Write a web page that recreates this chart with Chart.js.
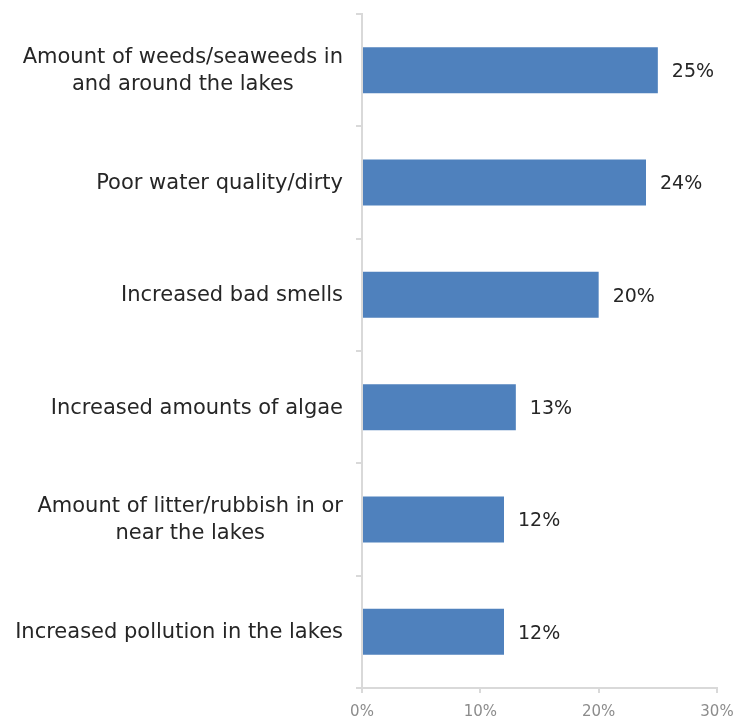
<!doctype html>
<html lang="en">
<head>
<meta charset="utf-8">
<title>Lake issues</title>
<script src="https://cdn.jsdelivr.net/npm/chart.js"></script>
<style>
  * { margin: 0; padding: 0; }
  body { background: #fff; }
  .chartBox { width: 746px; height: 721px; }
</style>
</head>
<body>
<div class="chartBox"><canvas id="myChart"></canvas></div>
<script>
const categories = [
  ['Amount of weeds/seaweeds in', 'and around the lakes'],
  'Poor water quality/dirty',
  'Increased bad smells',
  'Increased amounts of algae',
  ['Amount of litter/rubbish in or', 'near the lakes'],
  'Increased pollution in the lakes'
];
const values = [25, 24, 20, 13, 12, 12];
const xTicks = [0, 10, 20, 30];

const FONT = '"DejaVu Sans", sans-serif';
const axisColor = '#d9d9d9';
const textColor = '#262626';

// value labels to the right of each bar
const barLabels = {
  id: 'barLabels',
  afterDatasetsDraw(chart) {
    const ctx = chart.ctx;
    const meta = chart.getDatasetMeta(0);
    ctx.save();
    ctx.font = '19px ' + FONT;
    ctx.fillStyle = textColor;
    ctx.textAlign = 'left';
    ctx.textBaseline = 'middle';
    meta.data.forEach(function (bar, i) {
      ctx.fillText(values[i] + '%', bar.x + 14, bar.y + 2);
    });
    ctx.restore();
  }
};

// category labels: block right-aligned to the axis, lines centred within the block
const catLabels = {
  id: 'catLabels',
  afterDraw(chart) {
    const ctx = chart.ctx;
    const y = chart.scales.y;
    const right = y.right - 19;
    const lh = 27;
    ctx.save();
    ctx.font = '21px ' + FONT;
    ctx.fillStyle = textColor;
    ctx.textAlign = 'center';
    ctx.textBaseline = 'middle';
    categories.forEach(function (lab, i) {
      const lines = Array.isArray(lab) ? lab : [lab];
      const w = Math.max.apply(null, lines.map(l => ctx.measureText(l).width));
      const cx = right - w / 2;
      const cy = y.getPixelForTick(i);
      lines.forEach(function (l, j) {
        ctx.fillText(l, cx, cy + (j - (lines.length - 1) / 2) * lh + 1);
      });
    });
    ctx.restore();
  }
};

new Chart(document.getElementById('myChart'), {
  type: 'bar',
  data: {
    labels: categories,
    datasets: [{
      data: values,
      backgroundColor: '#4f81bd',
      categoryPercentage: 1,
      barPercentage: 0.41
    }]
  },
  options: {
    indexAxis: 'y',
    responsive: true,
    maintainAspectRatio: false,
    animation: false,
    layout: { padding: { top: 14, right: 29, bottom: 0, left: 0 } },
    plugins: { legend: { display: false }, tooltip: { enabled: false } },
    scales: {
      x: {
        min: 0,
        max: 30,
        afterBuildTicks(axis) { axis.ticks = xTicks.map(v => ({ value: v })); },
        afterFit(axis) { axis.height = 33; },
        border: { color: axisColor, width: 2 },
        grid: { drawOnChartArea: false, color: axisColor, lineWidth: 2, tickLength: 5 },
        ticks: {
          color: '#8c8c8c',
          font: { family: FONT, size: 15 },
          padding: 10,
          maxRotation: 0,
          callback: v => v + '%'
        }
      },
      y: {
        afterFit(axis) {
          axis.width = 362;
          axis.paddingTop = 0;
          axis.paddingBottom = 0;
        },
        border: { color: axisColor, width: 2 },
        grid: { drawOnChartArea: false, color: axisColor, lineWidth: 2, tickLength: 6 },
        ticks: {
          color: 'rgba(0,0,0,0)',
          font: { family: FONT, size: 12 },
          padding: 13
        }
      }
    }
  },
  plugins: [barLabels, catLabels]
});
</script>
</body>
</html>
